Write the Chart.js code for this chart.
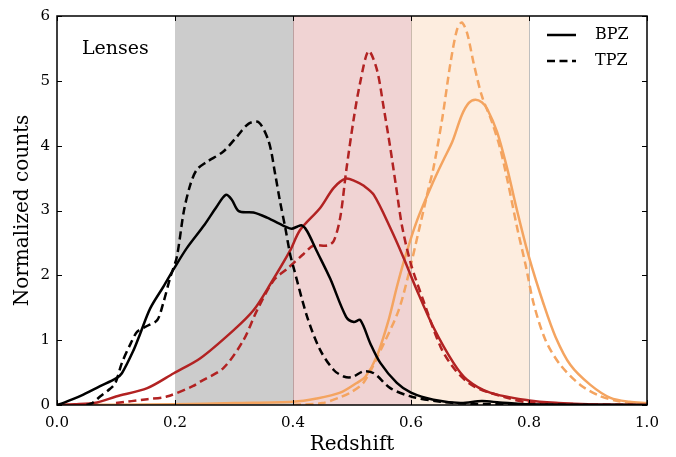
<!DOCTYPE html>
<html>
<head>
<meta charset="utf-8">
<script src="https://cdn.jsdelivr.net/npm/chart.js@4.4.1/dist/chart.umd.min.js"></script>
<style>
  html, body { margin: 0; padding: 0; background: #fff; }
  #wrap { width: 676px; height: 457px; }
</style>
</head>
<body>
<div id="wrap"><canvas id="chart1"></canvas></div>
<script>
// bin 1 (black)
const bin1BpzZ = [0.0, 0.01, 0.04, 0.073, 0.10, 0.11, 0.13, 0.141, 0.158, 0.18, 0.198, 0.22, 0.25, 0.27, 0.286, 0.296, 0.308, 0.333, 0.356, 0.39, 0.398, 0.407, 0.415, 0.424, 0.44, 0.463, 0.49, 0.503, 0.514, 0.531, 0.548, 0.576, 0.60, 0.638, 0.684, 0.72, 0.75, 0.80, 0.90, 1.0];
const bin1Bpz = [0, 0.03, 0.14, 0.29, 0.41, 0.49, 0.85, 1.1, 1.49, 1.82, 2.1, 2.42, 2.78, 3.05, 3.24, 3.17, 2.99, 2.97, 2.89, 2.74, 2.72, 2.75, 2.77, 2.68, 2.38, 1.95, 1.36, 1.28, 1.31, 0.95, 0.65, 0.34, 0.19, 0.08, 0.03, 0.06, 0.04, 0.01, 0.005, 0];
const bin1TpzZ = [0.05, 0.06, 0.073, 0.09, 0.099, 0.11, 0.125, 0.136, 0.155, 0.17, 0.18, 0.192, 0.203, 0.215, 0.226, 0.237, 0.254, 0.282, 0.305, 0.325, 0.342, 0.359, 0.37, 0.378, 0.387, 0.395, 0.401, 0.424, 0.446, 0.469, 0.486, 0.50, 0.52, 0.537, 0.565, 0.60, 0.65, 0.70, 0.80, 0.90];
const bin1Tpz = [0, 0.03, 0.13, 0.25, 0.34, 0.65, 0.95, 1.13, 1.23, 1.31, 1.57, 1.97, 2.28, 2.99, 3.40, 3.63, 3.75, 3.91, 4.14, 4.34, 4.36, 4.06, 3.55, 3.14, 2.73, 2.33, 2.12, 1.36, 0.85, 0.54, 0.44, 0.43, 0.52, 0.49, 0.26, 0.13, 0.05, 0.02, 0.005, 0];

// bin 2 (red)
const bin2BpzZ = [0.0, 0.03, 0.068, 0.1, 0.153, 0.198, 0.243, 0.299, 0.333, 0.362, 0.395, 0.412, 0.446, 0.469, 0.489, 0.506, 0.52, 0.537, 0.565, 0.587, 0.61, 0.638, 0.672, 0.695, 0.734, 0.80, 0.85, 0.90, 1.0];
const bin2Bpz = [0, 0.01, 0.04, 0.13, 0.26, 0.49, 0.72, 1.15, 1.46, 1.87, 2.38, 2.7, 3.04, 3.35, 3.49, 3.45, 3.38, 3.24, 2.73, 2.28, 1.77, 1.2, 0.65, 0.39, 0.19, 0.07, 0.03, 0.01, 0];
const bin2TpzZ = [0.1, 0.153, 0.186, 0.23, 0.243, 0.282, 0.316, 0.339, 0.367, 0.39, 0.418, 0.435, 0.458, 0.469, 0.48, 0.49, 0.503, 0.514, 0.528, 0.542, 0.554, 0.565, 0.575, 0.585, 0.60, 0.621, 0.65, 0.675, 0.706, 0.763, 0.80, 0.9, 1.0];
const bin2Tpz = [0.03, 0.09, 0.13, 0.29, 0.36, 0.57, 1.0, 1.46, 1.92, 2.1, 2.33, 2.46, 2.46, 2.53, 2.89, 3.6, 4.42, 4.98, 5.46, 5.18, 4.57, 3.96, 3.35, 2.75, 2.17, 1.61, 0.9, 0.54, 0.29, 0.11, 0.04, 0.01, 0];

// bin 3 (orange)
const bin3BpzZ = [0.0, 0.1, 0.2, 0.3, 0.4, 0.44, 0.48, 0.508, 0.523, 0.542, 0.562, 0.576, 0.59, 0.61, 0.638, 0.655, 0.67, 0.686, 0.698, 0.709, 0.72, 0.729, 0.746, 0.763, 0.78, 0.80, 0.825, 0.845, 0.87, 0.904, 0.938, 0.97, 1.0];
const bin3Bpz = [0, 0.005, 0.01, 0.03, 0.05, 0.1, 0.19, 0.34, 0.44, 0.75, 1.31, 1.82, 2.28, 2.84, 3.45, 3.78, 4.06, 4.47, 4.66, 4.71, 4.67, 4.57, 4.21, 3.65, 2.99, 2.28, 1.55, 1.05, 0.62, 0.31, 0.11, 0.05, 0.03];
const bin3TpzZ = [0.4, 0.45, 0.48, 0.497, 0.52, 0.554, 0.579, 0.596, 0.613, 0.63, 0.638, 0.653, 0.667, 0.678, 0.686, 0.695, 0.706, 0.72, 0.737, 0.751, 0.765, 0.78, 0.794, 0.808, 0.828, 0.853, 0.887, 0.92, 0.95, 0.98, 1.0];
const bin3Tpz = [0, 0.03, 0.12, 0.19, 0.35, 0.95, 1.46, 2.02, 2.68, 3.35, 3.65, 4.42, 5.28, 5.79, 5.9, 5.74, 5.28, 4.77, 4.37, 3.96, 3.4, 2.73, 2.17, 1.56, 1.0, 0.62, 0.31, 0.14, 0.06, 0.03, 0.02];

const binColors = ['#000000', '#b22222', '#f4a460'];
const bandEdges = [0.2, 0.4, 0.6, 0.8];
const bandColors = ['rgba(0,0,0,0.2)', 'rgba(178,34,34,0.2)', 'rgba(244,164,96,0.2)'];
const xTicks = [0.0, 0.2, 0.4, 0.6, 0.8, 1.0];
const yTicks = [0, 1, 2, 3, 4, 5, 6];
const legendNames = ['BPZ', 'TPZ'];

const FONT = "'DejaVu Serif', serif";

function pts(zs, ys) {
  return zs.map((z, i) => ({ x: z, y: ys[i] }));
}

function line(zs, ys, color, dashed) {
  return {
    data: pts(zs, ys),
    borderColor: color,
    borderWidth: 2.5,
    borderDash: dashed ? [8, 4.5] : [],
    pointRadius: 0,
    fill: false,
    tension: 0.3
  };
}

const bands = {
  id: 'bands',
  beforeDatasetsDraw(chart) {
    const { ctx, chartArea, scales } = chart;
    ctx.save();
    for (let i = 0; i < bandColors.length; i++) {
      const x0 = scales.x.getPixelForValue(bandEdges[i]);
      const x1 = scales.x.getPixelForValue(bandEdges[i + 1]);
      ctx.fillStyle = bandColors[i];
      ctx.fillRect(x0, chartArea.top, x1 - x0, chartArea.bottom - chartArea.top);
      ctx.strokeStyle = 'rgba(0,0,0,0.25)';
      ctx.lineWidth = 1;
      ctx.beginPath();
      ctx.moveTo(Math.round(x1) + 0.5, chartArea.top);
      ctx.lineTo(Math.round(x1) + 0.5, chartArea.bottom);
      ctx.stroke();
    }
    ctx.restore();
  }
};

const frame = {
  id: 'frame',
  afterDraw(chart) {
    const { ctx, chartArea: a, scales } = chart;
    ctx.save();
    ctx.strokeStyle = '#000';
    ctx.lineWidth = 1;
    const tl = 5;
    ctx.beginPath();
    xTicks.forEach(v => {
      const x = Math.round(scales.x.getPixelForValue(v)) + 0.5;
      ctx.moveTo(x, a.bottom); ctx.lineTo(x, a.bottom - tl);
      ctx.moveTo(x, a.top); ctx.lineTo(x, a.top + tl);
    });
    yTicks.forEach(v => {
      const y = Math.round(scales.y.getPixelForValue(v)) + 0.5;
      ctx.moveTo(a.left, y); ctx.lineTo(a.left + tl, y);
      ctx.moveTo(a.right, y); ctx.lineTo(a.right - tl, y);
    });
    ctx.stroke();
    ctx.lineWidth = 1.5;
    ctx.strokeRect(a.left, a.top, a.right - a.left, a.bottom - a.top);

    // panel label
    ctx.fillStyle = '#000';
    ctx.font = '19px ' + FONT;
    ctx.textAlign = 'left';
    ctx.textBaseline = 'middle';
    ctx.fillText('Lenses', 82, 49);

    // legend
    ctx.font = '16px ' + FONT;
    legendNames.forEach((name, i) => {
      const y = 35 + i * 26;
      ctx.lineWidth = 2.5;
      ctx.setLineDash(i === 1 ? [8, 4.5] : []);
      ctx.beginPath();
      ctx.moveTo(547, y); ctx.lineTo(576, y);
      ctx.stroke();
      ctx.setLineDash([]);
      ctx.fillText(name, 595, y);
    });
    ctx.restore();
  }
};

new Chart(document.getElementById('chart1'), {
  type: 'line',
  data: {
    datasets: [
      line(bin1BpzZ, bin1Bpz, binColors[0], false),
      line(bin1TpzZ, bin1Tpz, binColors[0], true),
      line(bin2BpzZ, bin2Bpz, binColors[1], false),
      line(bin2TpzZ, bin2Tpz, binColors[1], true),
      line(bin3BpzZ, bin3Bpz, binColors[2], false),
      line(bin3TpzZ, bin3Tpz, binColors[2], true)
    ]
  },
  options: {
    responsive: true,
    maintainAspectRatio: false,
    animation: false,
    layout: { padding: { left: 0, right: 29, top: 13, bottom: 0 } },
    plugins: {
      legend: { display: false },
      tooltip: { enabled: false }
    },
    scales: {
      x: {
        type: 'linear',
        min: 0, max: 1,
        afterFit(s) { s.height = 52; },
        afterBuildTicks(s) { s.ticks = xTicks.map(v => ({ value: v })); },
        grid: { display: false, drawTicks: false },
        border: { display: false },
        ticks: {
          padding: 9,
          color: '#000',
          font: { family: FONT, size: 15 },
          callback: v => v.toFixed(1)
        },
        title: {
          display: true,
          text: 'Redshift',
          color: '#000',
          font: { family: FONT, size: 20 },
          padding: { top: 0, bottom: 0 }
        }
      },
      y: {
        min: 0, max: 6,
        afterFit(s) { s.width = 57; },
        afterBuildTicks(s) { s.ticks = yTicks.map(v => ({ value: v })); },
        grid: { display: false, drawTicks: false },
        border: { display: false },
        ticks: {
          padding: 7,
          color: '#000',
          font: { family: FONT, size: 15 },
          callback: v => String(v)
        },
        title: {
          display: true,
          text: 'Normalized counts',
          color: '#000',
          font: { family: FONT, size: 20 },
          padding: { top: 11, bottom: 0 }
        }
      }
    }
  },
  plugins: [bands, frame]
});
</script>
</body>
</html>
